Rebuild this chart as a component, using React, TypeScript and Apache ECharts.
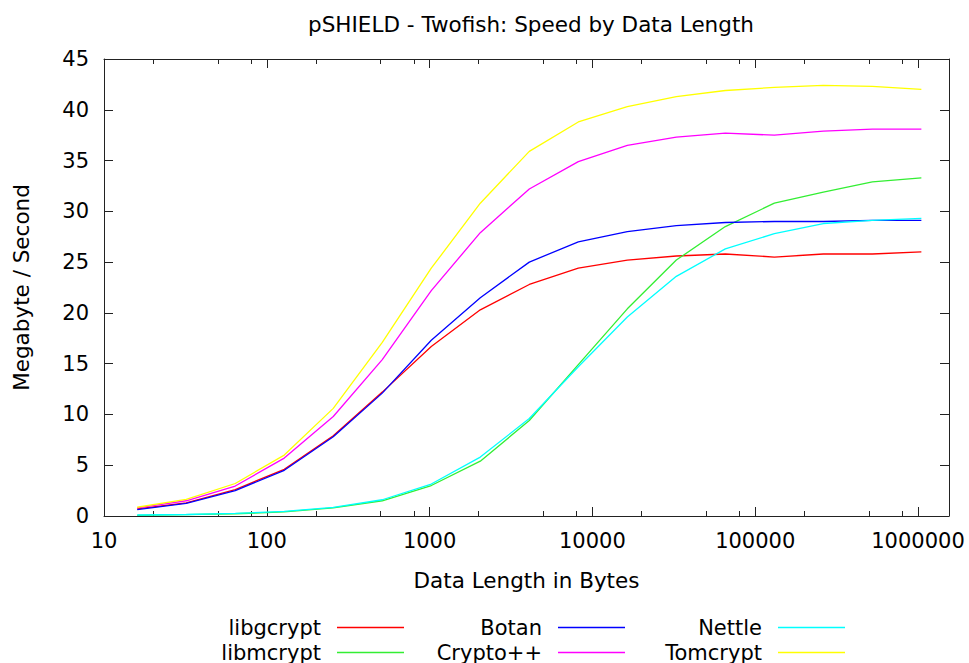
import React, { useEffect, useRef } from "react";
import * as echarts from "echarts";

const sizes = [16, 32, 64, 128, 256, 512, 1024, 2048, 4096, 8192, 16384, 32768, 65536, 131072, 262144, 524288, 1048576];

const libgcrypt = [0.7, 1.3, 2.6, 4.6, 7.9, 12.2, 16.7, 20.3, 22.8, 24.4, 25.2, 25.6, 25.8, 25.5, 25.8, 25.8, 26.0];
const libmcrypt = [0.07, 0.13, 0.22, 0.4, 0.8, 1.5, 3.0, 5.4, 9.4, 14.9, 20.4, 25.2, 28.5, 30.8, 31.9, 32.9, 33.3];
const botan = [0.63, 1.25, 2.5, 4.5, 7.8, 12.1, 17.3, 21.5, 25.0, 27.0, 28.0, 28.6, 28.9, 29.0, 29.0, 29.1, 29.1];
const cryptopp = [0.8, 1.5, 2.95, 5.7, 9.8, 15.4, 22.2, 27.9, 32.2, 34.9, 36.5, 37.3, 37.7, 37.5, 37.9, 38.1, 38.1];
const nettle = [0.1, 0.15, 0.25, 0.45, 0.85, 1.6, 3.15, 5.8, 9.6, 14.7, 19.6, 23.6, 26.3, 27.8, 28.8, 29.1, 29.3];
const tomcrypt = [0.86, 1.64, 3.2, 6.0, 10.6, 17.1, 24.4, 30.8, 35.9, 38.8, 40.3, 41.3, 41.9, 42.2, 42.4, 42.3, 42.0];

const seriesNames = ["libgcrypt", "libmcrypt", "Botan", "Crypto++", "Nettle", "Tomcrypt"];
const seriesValues = [libgcrypt, libmcrypt, botan, cryptopp, nettle, tomcrypt];
const seriesColors = ["#ff0000", "#33ee33", "#0000ff", "#ff00ff", "#00ffff", "#ffff00"];

const xMajorTicks = [10, 100, 1000, 10000, 100000, 1000000];
const xMinorTicks = [20, 50, 80, 200, 500, 800, 2000, 5000, 8000, 20000, 50000, 80000, 200000, 500000, 800000];
const xMin = 10;
const xMax = 1550000;

const TITLE = "pSHIELD - Twofish: Speed by Data Length";
const X_NAME = "Data Length in Bytes";
const Y_NAME = "Megabyte / Second";

const FONT = "DejaVu Sans";
const AXIS_COLOR = "#222";

export default function App() {
  const ref = useRef<HTMLDivElement>(null);

  useEffect(() => {
    if (!ref.current) return;
    const chart = echarts.init(ref.current, undefined, { renderer: "svg" });
    const lg = Math.log10;
    const xMinL = lg(xMin);
    const xMaxL = lg(xMax);
    const tickText = { fontFamily: FONT, fontSize: 21, color: "#000" };
    const nameText = { fontFamily: FONT, fontSize: 21.5, color: "#000" };

    const baseX = (position: string, major: boolean, withLabels: boolean) => ({
      type: "value",
      position,
      min: xMinL,
      max: xMaxL,
      splitLine: { show: false },
      axisLine: { show: major, lineStyle: { color: AXIS_COLOR, width: 1 } },
      axisTick: {
        show: true,
        inside: true,
        length: major ? 9 : 5,
        lineStyle: { color: AXIS_COLOR, width: 1 },
        customValues: (major ? xMajorTicks : xMinorTicks).map(lg),
      },
      axisLabel: {
        show: withLabels,
        margin: 14,
        ...tickText,
        customValues: xMajorTicks.map(lg),
        formatter: (v: number) => String(Math.round(Math.pow(10, v))),
      },
      ...(withLabels
        ? {
            name: X_NAME,
            nameLocation: "middle",
            nameGap: 53,
            nameTextStyle: nameText,
          }
        : {}),
    });

    const option: any = {
      animation: false,
      backgroundColor: "#fff",
      title: {
        text: TITLE,
        left: 526,
        top: 8,
        textAlign: "center",
        textStyle: { ...nameText, fontWeight: "normal" },
      },
      grid: { left: 104, right: 20, top: 59, bottom: 147, containLabel: false },
      xAxis: [
        baseX("bottom", true, true),
        baseX("bottom", false, false),
        baseX("top", true, false),
        baseX("top", false, false),
      ],
      yAxis: [
        {
          type: "value",
          position: "left",
          min: 0,
          max: 45,
          interval: 5,
          splitLine: { show: false },
          axisLine: { show: true, lineStyle: { color: AXIS_COLOR, width: 1 } },
          axisTick: { show: true, inside: true, length: 9, lineStyle: { color: AXIS_COLOR } },
          axisLabel: { margin: 15, ...tickText },
          name: Y_NAME,
          nameLocation: "middle",
          nameGap: 72,
          nameTextStyle: nameText,
        },
        {
          type: "value",
          position: "right",
          min: 0,
          max: 45,
          interval: 5,
          splitLine: { show: false },
          axisLine: { show: true, lineStyle: { color: AXIS_COLOR, width: 1 } },
          axisTick: { show: true, inside: true, length: 9, lineStyle: { color: AXIS_COLOR } },
          axisLabel: { show: false },
        },
      ],
      legend: seriesNames.map((name, i) => {
        const col = Math.floor(i / 2);
        const row = i % 2;
        const rights = [565, 344, 124];
        return {
          data: [name],
          right: rights[col],
          top: 617 + row * 25,
          align: "right",
          orient: "horizontal",
          padding: 0,
          icon: "rect",
          itemWidth: 67,
          itemHeight: 1.5,
          selectedMode: false,
          textStyle: { ...tickText, padding: [0, 11, 0, 0] },
        };
      }),
      series: seriesNames.map((name, i) => ({
        name,
        type: "line",
        xAxisIndex: 0,
        yAxisIndex: 0,
        symbol: "none",
        lineStyle: { color: seriesColors[i], width: 1.3 },
        itemStyle: { color: seriesColors[i] },
        data: sizes.map((s, j) => [lg(s), seriesValues[i][j]]),
      })),
    };
    chart.setOption(option);
    return () => chart.dispose();
  }, []);

  return (
    <div
      ref={ref}
      style={{ position: "fixed", left: 0, top: 0, width: 969, height: 663, background: "#fff" }}
    />
  );
}
